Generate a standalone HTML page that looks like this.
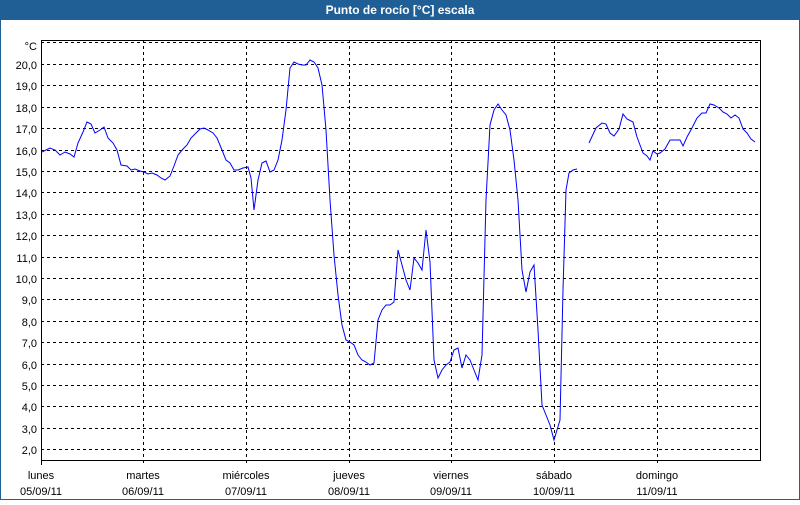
<!DOCTYPE html><html><head><meta charset="utf-8"><style>
body{margin:0;width:800px;height:500px;overflow:hidden;background:#fff;font-family:"Liberation Sans",sans-serif}
</style></head><body>
<svg width="800" height="500" xmlns="http://www.w3.org/2000/svg" font-family="Liberation Sans, sans-serif" font-size="11">
<rect x="0" y="0" width="800" height="500" fill="#fff"/>
<rect x="0.5" y="0.5" width="799" height="499" fill="none" stroke="#1f5f96"/>
<rect x="0" y="0" width="800" height="20" fill="#1f5f96"/>
<text x="400" y="14" fill="#fff" font-weight="bold" text-anchor="middle" font-size="12">Punto de rocío [°C] escala</text>
<g stroke="#000" stroke-dasharray="3,3" stroke-width="1">
<line x1="41" y1="42.5" x2="760" y2="42.5"/>
<g id="h"></g>
</g>
<g stroke="#000" stroke-dasharray="3,3">
<line x1="41" x2="760" y1="64.5" y2="64.5"/><line x1="41" x2="760" y1="85.5" y2="85.5"/><line x1="41" x2="760" y1="107.5" y2="107.5"/><line x1="41" x2="760" y1="128.5" y2="128.5"/><line x1="41" x2="760" y1="150.5" y2="150.5"/><line x1="41" x2="760" y1="171.5" y2="171.5"/><line x1="41" x2="760" y1="192.5" y2="192.5"/><line x1="41" x2="760" y1="214.5" y2="214.5"/><line x1="41" x2="760" y1="235.5" y2="235.5"/><line x1="41" x2="760" y1="257.5" y2="257.5"/><line x1="41" x2="760" y1="278.5" y2="278.5"/><line x1="41" x2="760" y1="299.5" y2="299.5"/><line x1="41" x2="760" y1="321.5" y2="321.5"/><line x1="41" x2="760" y1="342.5" y2="342.5"/><line x1="41" x2="760" y1="364.5" y2="364.5"/><line x1="41" x2="760" y1="385.5" y2="385.5"/><line x1="41" x2="760" y1="406.5" y2="406.5"/><line x1="41" x2="760" y1="428.5" y2="428.5"/><line x1="41" x2="760" y1="449.5" y2="449.5"/>
<line x1="143.5" x2="143.5" y1="40" y2="465"/><line x1="246.5" x2="246.5" y1="40" y2="465"/><line x1="349.5" x2="349.5" y1="40" y2="465"/><line x1="451.5" x2="451.5" y1="40" y2="465"/><line x1="554.5" x2="554.5" y1="40" y2="465"/><line x1="657.5" x2="657.5" y1="40" y2="465"/>
</g>
<polyline fill="none" stroke="#000" points="41.5,465 41.5,40.5 760.5,40.5 760.5,460.5 41,460.5"/>
<g text-anchor="end" fill="#000">
<text x="37" y="50">°C</text>
<text x="37" y="69">20,0</text><text x="37" y="90">19,0</text><text x="37" y="112">18,0</text><text x="37" y="133">17,0</text><text x="37" y="155">16,0</text><text x="37" y="176">15,0</text><text x="37" y="197">14,0</text><text x="37" y="219">13,0</text><text x="37" y="240">12,0</text><text x="37" y="262">11,0</text><text x="37" y="283">10,0</text><text x="37" y="304">9,0</text><text x="37" y="326">8,0</text><text x="37" y="347">7,0</text><text x="37" y="369">6,0</text><text x="37" y="390">5,0</text><text x="37" y="411">4,0</text><text x="37" y="433">3,0</text><text x="37" y="454">2,0</text>
</g>
<g text-anchor="middle" fill="#000">
<text x="41" y="479">lunes</text><text x="41" y="495">05/09/11</text>
<text x="143" y="479">martes</text><text x="143" y="495">06/09/11</text>
<text x="246" y="479">miércoles</text><text x="246" y="495">07/09/11</text>
<text x="349" y="479">jueves</text><text x="349" y="495">08/09/11</text>
<text x="451" y="479">viernes</text><text x="451" y="495">09/09/11</text>
<text x="554" y="479">sábado</text><text x="554" y="495">10/09/11</text>
<text x="657" y="479">domingo</text><text x="657" y="495">11/09/11</text>
</g>
<g fill="none" stroke="#0000ff" stroke-width="1">
<polyline points="42,152 50,148 55,150 60,155 65,152 70,154 74,157 78,143 83,132 87,122 91,124 95,133 100,130 104,127 108,138 113,143 117,150 121,165 127,166 131,170 135,169 140,171 144,172 148,174 152,173 157,175 161,178 165,180 170,176 174,166 178,155 183,149 187,145 191,138 196,133 200,129 204,128 208,130 213,133 217,138 222,150 226,160 230,163 234,170 238,170 243,168 248,167 251,178 254,210 258,180 262,163 266,161 270,172 274,170 278,160 282,140 286,110 290,68 294,62 298,64 302,65 306,65 310,60 314,62 318,68 322,85 326,130 330,200 334,255 338,295 342,325 346,340 350,342 354,345 358,355 362,360 366,362 370,365 374,363 378,320 382,310 386,305 390,305 394,302 398,250 402,265 406,280 410,290 414,258 418,263 422,270 426,230 430,262 434,360 438,378 442,370 446,365 450,362 454,350 458,348 462,368 466,355 470,360 474,370 478,380 482,355 486,200 490,125 494,110 498,104 502,110 506,115 510,130 514,160 518,200 522,270 526,292 530,272 534,265 538,330 542,405 546,415 550,425 554,440 557,430 560,420 563,290 566,190 569,173 573,170 577,169"/>
<polyline points="589,143 596,128 602,123 606,124 610,133 614,136 619,129 623,114 627,119 633,122 637,137 640,145 643,153 647,156 650,160 653,151 657,154 660,153 665,149 670,140 675,140 680,140 683,146 687,137 692,128 697,118 702,113 706,113 710,104 714,105 719,108 723,112 727,114 731,118 735,115 739,118 743,129 747,133 751,139 755,142"/>
</g>
</svg>
</body></html>
